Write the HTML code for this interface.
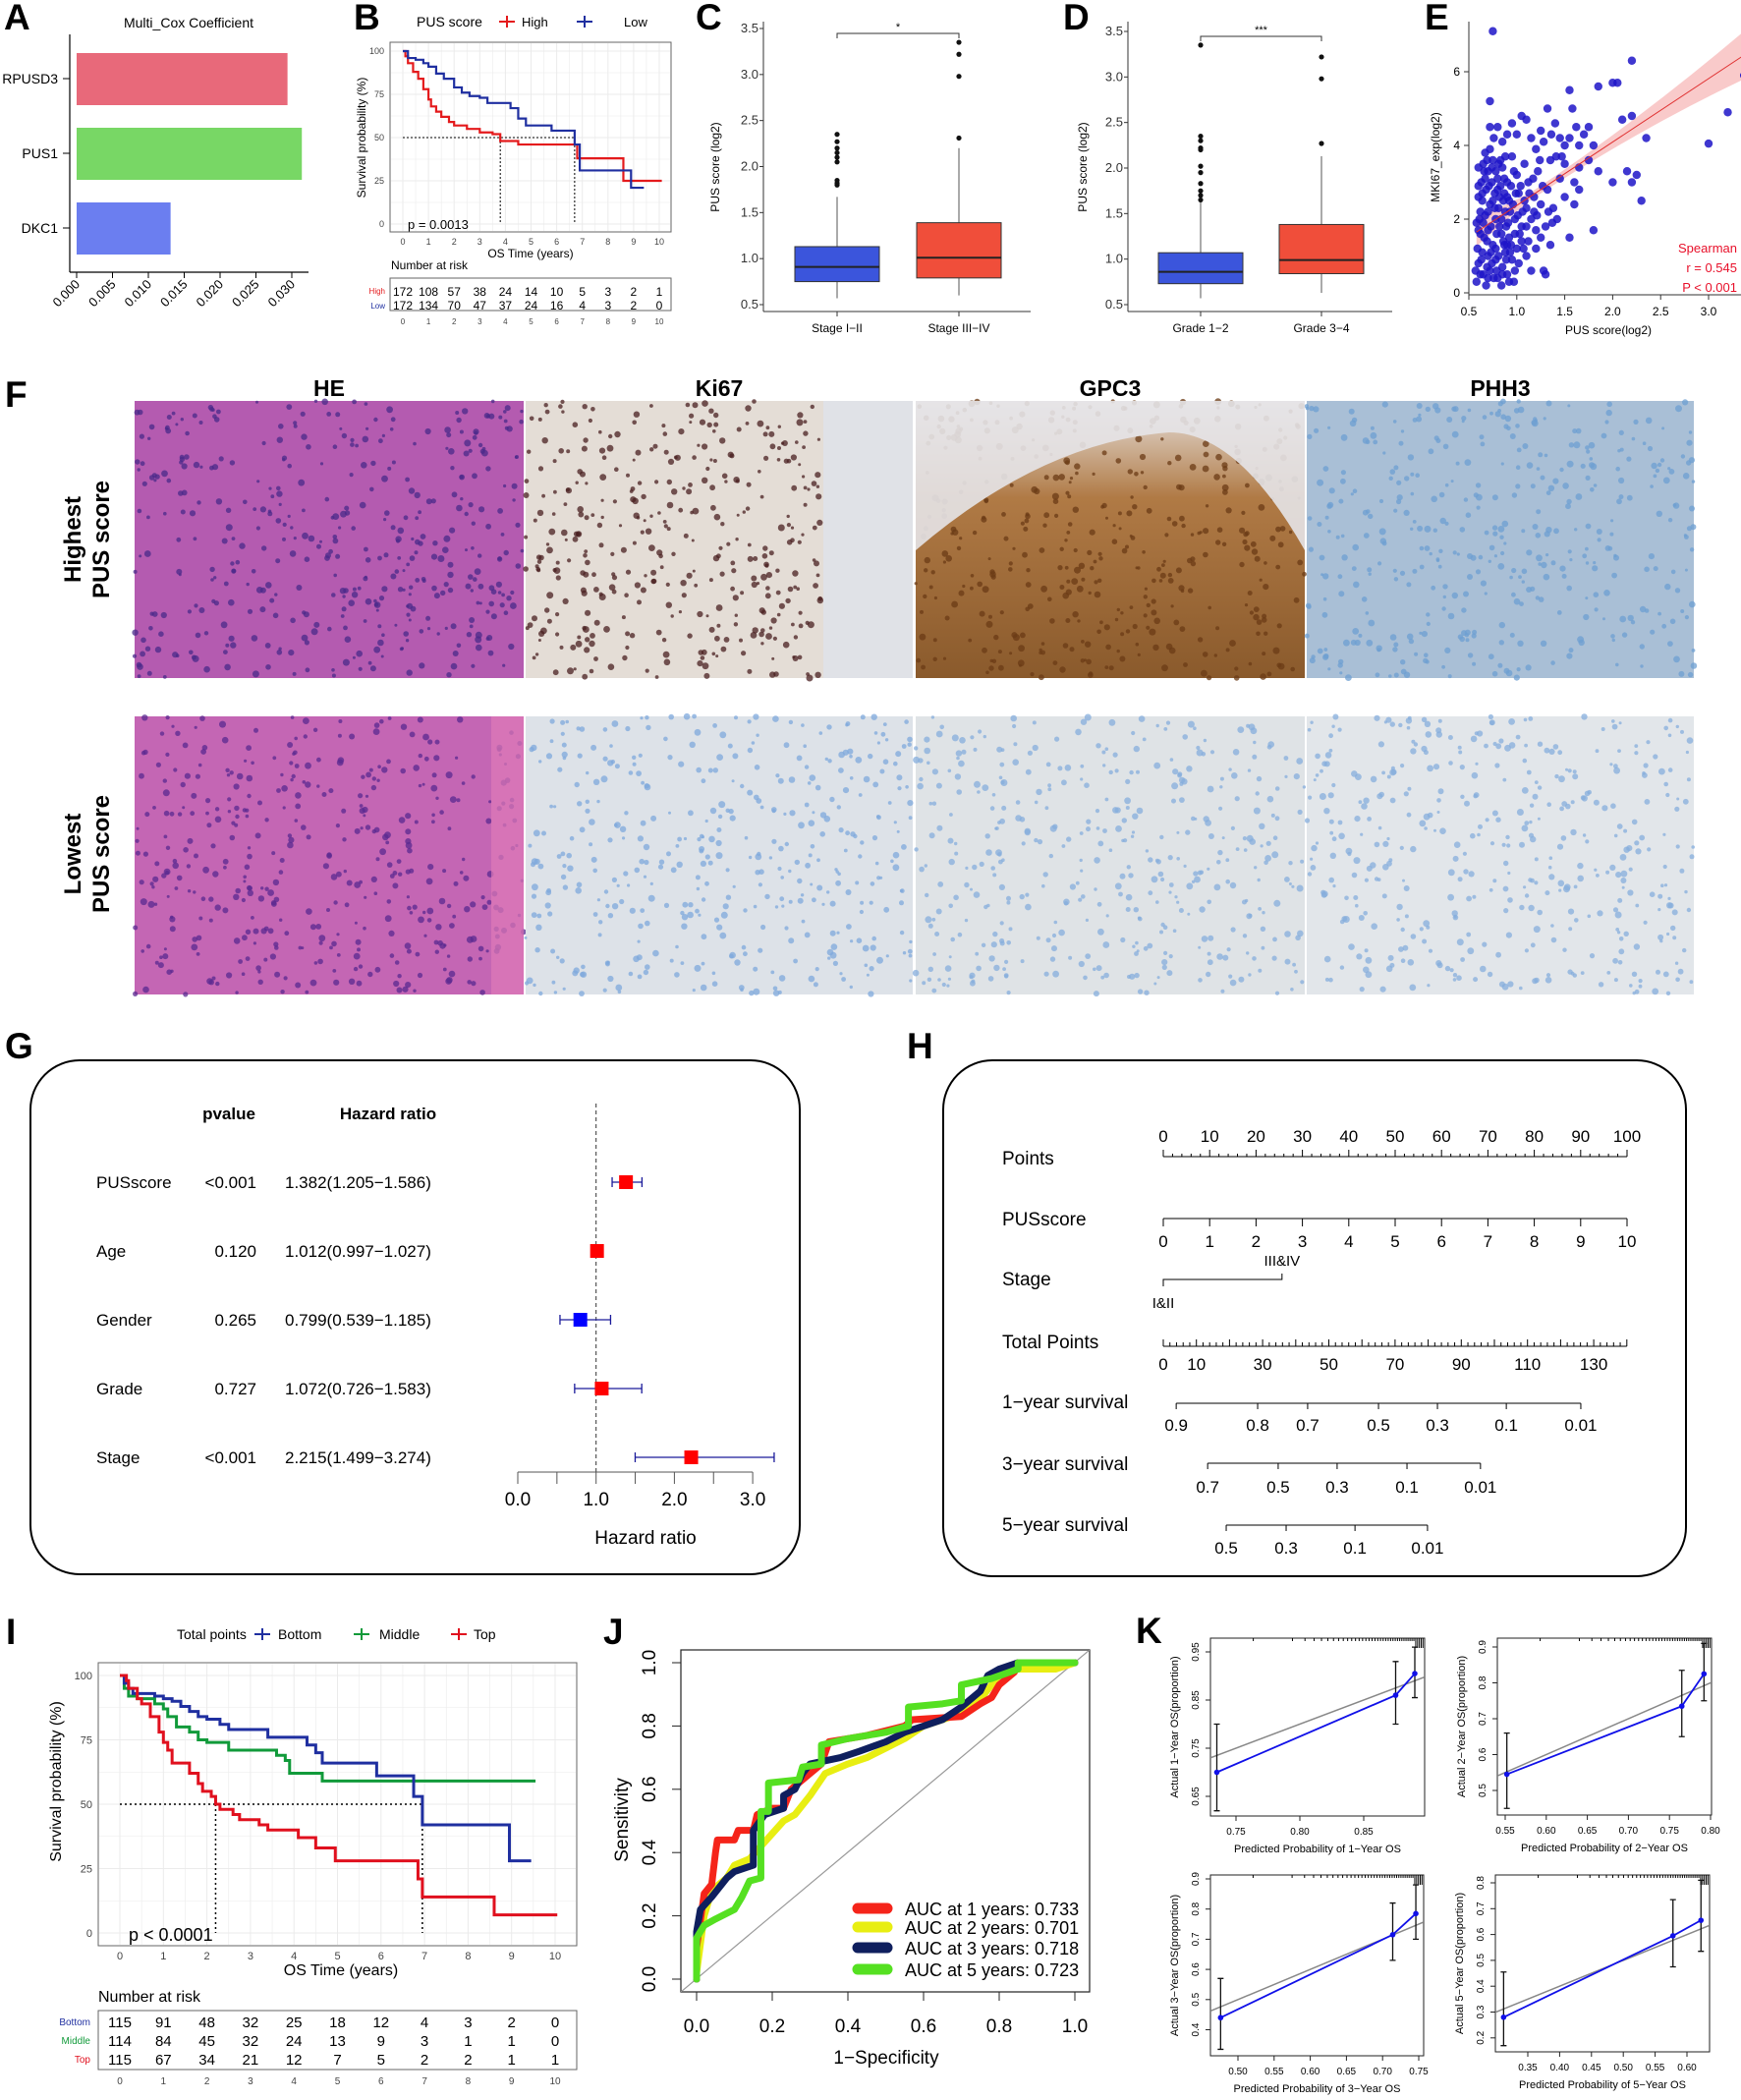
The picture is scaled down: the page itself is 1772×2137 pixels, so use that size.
<!DOCTYPE html>
<html><head><meta charset="utf-8">
<style>
html,body{margin:0;padding:0;background:#fff;}
svg{display:block;font-family:"Liberation Sans",Arial,sans-serif;}
</style></head>
<body>
<svg id="fig" xmlns="http://www.w3.org/2000/svg" width="1772" height="2137" viewBox="0 0 1772 2137">
<defs>
<clipPath id="clipK1"><rect x="1232" y="1667" width="218" height="181"/></clipPath>
<clipPath id="clipK2"><rect x="1524" y="1667" width="218" height="180"/></clipPath>
<clipPath id="clipK3"><rect x="1232" y="1908" width="217" height="184"/></clipPath>
<clipPath id="clipK4"><rect x="1522" y="1908" width="218" height="180"/></clipPath>
<clipPath id="clipJ"><rect x="693" y="1679" width="416" height="348"/></clipPath>
<linearGradient id="gpcG" x1="0" y1="0" x2="0" y2="1"><stop offset="0" stop-color="#e6e0dc"/><stop offset="0.35" stop-color="#b07a45"/><stop offset="1" stop-color="#8a5a2c"/></linearGradient>
</defs>
</svg>
<script>
// ---------------- DATA ----------------
const coefGenes = ["RPUSD3","PUS1","DKC1"];
const coefValues = [0.0294,0.0314,0.0131];
const coefTicks = [0,0.005,0.010,0.015,0.020,0.025,0.030];

const kmBHighT = [0,0.1,0.2,0.4,0.6,0.8,1,1.1,1.3,1.5,1.8,2,2.5,3,3.5,3.8,4.5,6.8,8.6,10.1];
const kmBHighS = [100,97,93,88,84,78,72,68,65,62,59,57,55,53,52,48,46,38,25,25];
const kmBLowT = [0,0.2,0.5,0.8,1,1.3,1.6,2,2.3,2.6,3,3.3,4.2,4.5,4.8,5.8,6.7,6.9,8.9,9.4];
const kmBLowS = [100,96,95,93,91,87,84,79,76,74,73,70,67,61,57,54,46,31,21,21];
const kmBMedians = [3.8,6.7];
const riskBHigh = [172,108,57,38,24,14,10,5,3,2,1];
const riskBLow = [172,134,70,47,37,24,16,4,3,2,0];

const stageCats = ["Stage I\u2212II","Stage III\u2212IV"];
const stageQ1=[0.75,0.79], stageMed=[0.91,1.01], stageQ3=[1.13,1.39], stageLo=[0.57,0.60], stageHi=[1.67,2.20];
const stageOut=[[1.8,1.82,1.85,2.05,2.1,2.15,2.2,2.27,2.35],[2.31,2.98,3.22,3.35]];
const gradeCats = ["Grade 1\u22122","Grade 3\u22124"];
const gradeQ1=[0.73,0.84], gradeMed=[0.86,0.99], gradeQ3=[1.07,1.38], gradeLo=[0.57,0.63], gradeHi=[1.63,2.13];
const gradeOut=[[1.65,1.7,1.75,1.83,1.95,2.02,2.2,2.22,2.3,2.35,3.35],[2.27,2.98,3.22]];
const boxTicks=[0.5,1.0,1.5,2.0,2.5,3.0,3.5];

const scatX=[0.75,0.72,0.6,0.62,0.58,0.6,0.65,0.68,0.7,0.72,0.75,0.78,0.8,0.82,0.85,0.88,0.9,0.92,0.95,0.98,1.0,1.02,1.05,1.1,1.15,1.2,1.28,0.62,0.65,0.68,0.7,0.72,0.75,0.78,0.8,0.82,0.85,0.88,0.9,0.92,0.95,0.98,1.0,1.02,1.05,1.08,1.1,1.12,1.15,1.18,1.2,1.22,1.25,1.3,1.32,1.35,1.38,0.67,0.72,0.8,0.85,0.9,0.95,1.0,1.05,1.1,1.15,1.2,1.25,1.28,1.32,1.36,1.4,1.45,1.5,1.55,1.58,1.62,1.65,1.7,1.75,1.8,1.55,1.85,2.0,2.05,2.2,3.2,3.0,2.35,2.1,2.2,2.15,2.25,2.3,2.0,2.2,1.8,1.55,1.85,1.75,1.6,1.65,1.5,1.45,1.5,1.6,1.65,1.42,1.35,1.3,1.25,1.18,1.12,1.08,0.98,0.93,0.87,0.83,0.77,0.73,0.69,0.64,0.6,0.63,0.66,0.7,0.74,0.78,0.81,0.86,0.89,0.94,0.97,1.01,1.04,1.07,1.13,1.17,1.21,1.24,1.27,1.33,1.37,1.41,1.47,0.88,0.76,0.84,0.92,0.7,
0.57,0.59,0.61,0.63,0.64,0.66,0.67,0.69,0.71,0.73,0.74,0.76,0.77,0.79,0.8,0.81,0.83,0.84,0.86,0.87,0.89,0.91,0.93,0.96,0.58,0.6,0.62,0.65,0.67,0.7,0.72,0.75,0.78,0.81,0.84,0.87,0.9,0.94,0.99,1.03,1.06,1.1,0.6,0.64,0.69,0.74,0.79,0.85,0.9,0.97];
const scatY=[7.1,5.2,2.6,1.6,0.3,0.8,0.5,0.2,1.0,0.6,1.3,0.9,0.4,1.8,0.7,1.1,0.5,1.5,0.9,0.6,1.2,0.8,1.4,1.0,0.6,1.2,0.6,2.2,1.9,2.8,3.3,2.4,3.6,2.0,3.1,2.6,3.4,2.2,3.0,2.5,3.7,2.0,3.2,2.7,1.8,3.5,2.3,3.0,2.0,2.6,1.7,3.3,2.4,1.8,2.8,3.6,2.3,3.8,4.5,4.5,4.1,4.3,4.6,4.3,4.8,4.7,4.2,3.9,4.4,4.1,5.0,4.3,4.6,4.2,4.0,4.2,5.0,4.5,4.0,4.3,4.5,4.0,5.5,5.6,5.7,5.7,6.3,4.9,4.05,4.2,4.7,4.8,3.3,3.2,2.5,3.0,3.0,1.7,1.5,3.3,3.6,3.0,2.8,3.5,3.1,2.6,2.4,3.4,2.0,1.3,0.5,1.5,2.2,1.4,2.5,1.6,2.2,1.3,2.9,2.7,1.8,1.4,1.1,1.7,3.0,3.3,2.2,3.0,3.3,2.3,2.5,1.8,2.9,3.3,2.1,2.9,1.2,2.7,3.1,2.1,3.6,2.9,2.2,1.9,3.7,3.7,3.7,4.2,0.2,0.3,0.4,
0.6,1.2,2.0,0.9,2.5,1.5,3.1,0.7,2.9,1.1,3.4,0.4,2.3,1.6,2.8,1.0,3.6,2.0,1.4,2.7,0.9,1.9,1.1,2.4,1.9,2.9,0.5,3.5,2.1,1.7,3.9,2.5,1.2,3.5,1.6,3.1,2.6,1.3,2.7,1.6,2.2,1.8,3.4,2.7,3.6,0.8,0.6,0.5,1.3,0.3];
const scatOpen=[[3.37,5.9]];
const fitX=[0.58,3.37], fitY=[1.65,6.45];
const eXTicks=[0.5,1.0,1.5,2.0,2.5,3.0], eYTicks=[0,2,4,6];

const forestVars=["PUSscore","Age","Gender","Grade","Stage"];
const forestP=["<0.001","0.120","0.265","0.727","<0.001"];
const forestHR=[1.382,1.012,0.799,1.072,2.215];
const forestLo=[1.205,0.997,0.539,0.726,1.499];
const forestHi=[1.586,1.027,1.185,1.583,3.274];
const forestTicks=[0,1,2,3];

const nomoPointTicks=[0,10,20,30,40,50,60,70,80,90,100];
const nomoScoreTicks=[0,1,2,3,4,5,6,7,8,9,10];
const nomoStagePts=[0,25.6];
const nomoTotalTicks=[0,10,30,50,70,90,110,130];
const surv1Lab=["0.9","0.8","0.7","0.5","0.3","0.1","0.01"], surv1TP=[3.9,28.5,43.6,65,82.8,103.6,126.1];
const surv3Lab=["0.7","0.5","0.3","0.1","0.01"], surv3TP=[13.4,34.7,52.5,73.6,95.8];
const surv5Lab=["0.5","0.3","0.1","0.01"], surv5TP=[19,37.1,57.9,79.8];

const kmIBotT=[0,0.1,0.2,0.3,0.8,1,1.2,1.4,1.6,1.8,2,2.3,2.5,3.4,4.3,4.5,4.65,5.9,6.75,6.95,8.95,9.45];
const kmIBotS=[100,97,95,93,92,91,90,88,86,84,83,81,79,76,73,70,66,61,53,42,28,28];
const kmIMidT=[0,0.1,0.2,0.4,0.8,1,1.1,1.3,1.6,1.8,2,2.5,3.6,3.8,3.9,4.65,9.55];
const kmIMidS=[100,95,92,91,89,87,84,80,78,75,74,71,69,67,62,59,59];
const kmITopT=[0,0.15,0.2,0.4,0.5,0.7,0.9,1,1.1,1.2,1.6,1.8,1.9,2.1,2.2,2.3,2.6,2.75,3.2,3.4,4.1,4.5,4.95,6.85,6.95,8.6,10.05];
const kmITopS=[100,98,95,91,89,84,78,74,71,66,62,58,55,53,50,48,46,44,42,40,37,33,28,21,14,7,7];
const kmIMedians=[2.2,6.95];
const riskIBot=[115,91,48,32,25,18,12,4,3,2,0];
const riskIMid=[114,84,45,32,24,13,9,3,1,1,0];
const riskITop=[115,67,34,21,12,7,5,2,2,1,1];

const roc1F=[0,0,0.02,0.04,0.05,0.055,0.1,0.11,0.15,0.16,0.2,0.23,0.25,0.3,0.33,0.35,0.45,0.55,0.57,0.7,0.75,0.78,0.8,0.84,0.85,1];
const roc1T=[0,0.1,0.27,0.3,0.4,0.44,0.44,0.47,0.47,0.52,0.54,0.54,0.6,0.65,0.68,0.75,0.77,0.8,0.82,0.83,0.87,0.89,0.93,0.97,1,1];
const roc2F=[0,0,0.02,0.04,0.08,0.1,0.14,0.17,0.2,0.23,0.26,0.3,0.34,0.4,0.45,0.5,0.55,0.6,0.7,0.76,0.8,0.85,0.95,1];
const roc2T=[0,0.02,0.2,0.28,0.32,0.36,0.38,0.42,0.46,0.5,0.52,0.58,0.65,0.68,0.7,0.73,0.76,0.8,0.84,0.9,0.96,0.98,0.98,1];
const roc3F=[0,0,0.01,0.04,0.08,0.1,0.15,0.15,0.18,0.23,0.23,0.26,0.28,0.3,0.38,0.43,0.5,0.55,0.6,0.65,0.7,0.75,0.77,0.8,0.85,1];
const roc3T=[0,0.15,0.22,0.26,0.32,0.34,0.36,0.47,0.52,0.54,0.58,0.6,0.65,0.68,0.7,0.72,0.75,0.78,0.8,0.82,0.86,0.91,0.96,0.98,1,1];
const roc5F=[0,0,0.02,0.05,0.1,0.12,0.14,0.17,0.17,0.19,0.19,0.27,0.28,0.33,0.33,0.4,0.5,0.56,0.56,0.65,0.7,0.7,0.78,0.85,0.85,1];
const roc5T=[0,0.13,0.17,0.19,0.22,0.26,0.31,0.32,0.53,0.53,0.62,0.63,0.67,0.68,0.74,0.76,0.78,0.8,0.86,0.87,0.88,0.93,0.95,0.98,1,1];
const rocLabels=["AUC at 1 years: 0.733","AUC at 2 years: 0.701","AUC at 3 years: 0.718","AUC at 5 years: 0.723"];
const rocTicks=[0,0.2,0.4,0.6,0.8,1.0];

const k1Pred=[0.735,0.875,0.89], k1Obs=[0.70,0.86,0.905], k1Lo=[0.62,0.80,0.855], k1Hi=[0.80,0.93,0.96];
const k2Pred=[0.552,0.765,0.792], k2Obs=[0.545,0.735,0.825], k2Lo=[0.45,0.65,0.75], k2Hi=[0.66,0.835,0.91];
const k3Pred=[0.476,0.714,0.746], k3Obs=[0.44,0.715,0.785], k3Lo=[0.335,0.63,0.70], k3Hi=[0.57,0.82,0.88];
const k4Pred=[0.312,0.578,0.622], k4Obs=[0.28,0.595,0.655], k4Lo=[0.17,0.475,0.535], k4Hi=[0.455,0.735,0.81];

// ---------------- HELPERS ----------------
const NS="http://www.w3.org/2000/svg";
const svg=document.getElementById('fig');
function mk(tag,attrs,parent,text){
  const e=document.createElementNS(NS,tag);
  for(const k in attrs) e.setAttribute(k,attrs[k]);
  if(text!=null) e.textContent=text;
  (parent||svg).appendChild(e);
  return e;
}
function nm(e,name){
  
  
  return e;
}
function grp(name){const g=mk('g',{});
  
  
  return g;}
function txt(p,x,y,s,size,extra){const a=Object.assign({x:x,y:y,'font-size':size,fill:'#000'},extra||{});return mk('text',a,p,s);}
function label(p,x,y,s){const t=txt(p,x,y,s,37,{'font-weight':'bold'});
  
  }
function stepPath(T,S,fx,fy){let d='M'+fx(T[0])+','+fy(S[0]);for(let i=1;i<T.length;i++){d+=' H'+fx(T[i])+' V'+fy(S[i]);}return d;}

// ---------------- PANEL A ----------------
(function(){
  const g=grp('panel-a-coefficient-bar');
  label(g,4,30,'A');
  txt(g,192,28,'Multi_Cox  Coefficient',14,{'text-anchor':'middle'});
  const x=v=>78+v/0.030*219;
  const yc=[80,156,232];
  const cols=['#e8697a','#78d765','#6b7ef0'];
  coefGenes.forEach((gn,i)=>{
    const r=mk('rect',{x:x(0),y:yc[i]-26,width:x(coefValues[i])-x(0),height:53,fill:cols[i]},g);
    nm(r,'bar-'+gn.toLowerCase());
    txt(g,59,yc[i]+5,gn,14,{'text-anchor':'end'});
    mk('line',{x1:64,y1:yc[i],x2:71,y2:yc[i],stroke:'#000'},g);
  });
  mk('line',{x1:71,y1:35,x2:71,y2:277,stroke:'#000','stroke-width':1.2},g);
  mk('line',{x1:71,y1:277,x2:314,y2:277,stroke:'#000','stroke-width':1.2},g);
  coefTicks.forEach(t=>{mk('line',{x1:x(t),y1:277,x2:x(t),y2:283,stroke:'#000'},g);
    txt(g,x(t)+4,290,t.toFixed(3),13,{'text-anchor':'end',transform:`rotate(-45 ${x(t)+4} 290)`});});
})();

// ---------------- PANEL B ----------------
(function(){
  const g=grp('panel-b-km-pus');
  label(g,360,30,'B');
  const x=t=>410+t*26.1, y=s=>228-s*1.76;
  txt(g,424,27,'PUS score',14);
  mk('path',{d:'M508,22 h16 M516,16 v12',stroke:'#e41a1c','stroke-width':2},g);
  txt(g,531,27,'High',13);
  mk('path',{d:'M587,22 h16 M595,16 v12',stroke:'#1f2fa0','stroke-width':2},g);
  txt(g,635,27,'Low',13);
  mk('rect',{x:397,y:43,width:286,height:193,fill:'#fff',stroke:'#666'},g);
  for(let t=0;t<=10;t+=0.5) mk('line',{x1:x(t),y1:44,x2:x(t),y2:235,stroke:'#ebebeb','stroke-width':t%1?0.6:1},g);
  for(let s=0;s<=100;s+=12.5) mk('line',{x1:398,y1:y(s),x2:682,y2:y(s),stroke:'#ebebeb','stroke-width':s%25?0.6:1},g);
  [0,25,50,75,100].forEach(s=>txt(g,391,y(s)+3,s,9,{'text-anchor':'end',fill:'#444'}));
  for(let t=0;t<=10;t++) txt(g,x(t),249,t,9,{'text-anchor':'middle',fill:'#444'});
  txt(g,0,0,'Survival probability (%)',12,{'text-anchor':'middle',transform:'translate(372,140) rotate(-90)'});
  mk('path',{d:`M${x(0)},${y(50)} H${x(kmBMedians[1])} M${x(kmBMedians[0])},${y(50)} V${y(0)} M${x(kmBMedians[1])},${y(50)} V${y(0)}`,stroke:'#000','stroke-dasharray':'2,2',fill:'none'},g);
  nm(mk('path',{d:stepPath(kmBHighT,kmBHighS,x,y),stroke:'#e41a1c','stroke-width':2.2,fill:'none'},g),'curve-high');
  nm(mk('path',{d:stepPath(kmBLowT,kmBLowS,x,y),stroke:'#1f2fa0','stroke-width':2.2,fill:'none'},g),'curve-low');
  txt(g,415,233,'p = 0.0013',13);
  txt(g,540,262,'OS Time (years)',12,{'text-anchor':'middle'});
  txt(g,398,274,'Number at risk',12);
  mk('rect',{x:397,y:283,width:286,height:33,fill:'none',stroke:'#666'},g);
  txt(g,392,299,'High',8,{'text-anchor':'end',fill:'#e41a1c'});
  txt(g,392,314,'Low',8,{'text-anchor':'end',fill:'#1f2fa0'});
  riskBHigh.forEach((v,i)=>txt(g,x(i),301,v,12,{'text-anchor':'middle'}));
  riskBLow.forEach((v,i)=>txt(g,x(i),315,v,12,{'text-anchor':'middle'}));
  for(let t=0;t<=10;t++) txt(g,x(t),330,t,8,{'text-anchor':'middle',fill:'#444'});
})();

// ---------------- BOX PANELS C/D ----------------
function boxPanel(name,L,lx,ax,axEnd,y35,y05,cx,cats,q1,md,q3,lo,hi,outs,stars,sx){
  const g=grp(name);
  label(g,lx,30,L);
  const y=v=>y05-(v-0.5)*(y05-y35)/3;
  mk('line',{x1:ax,y1:22,x2:ax,y2:317,stroke:'#333'},g);
  mk('line',{x1:ax,y1:317,x2:axEnd,y2:317,stroke:'#333'},g);
  boxTicks.forEach(t=>{mk('line',{x1:ax-4,y1:y(t),x2:ax,y2:y(t),stroke:'#333'},g);txt(g,ax-5,y(t)+4,t.toFixed(1),13,{'text-anchor':'end',fill:'#333'});});
  const cols=['#3b55dc','#f04e3a'];
  cats.forEach((c,i)=>{
    const X=cx[i];
    mk('line',{x1:X,y1:y(lo[i]),x2:X,y2:y(hi[i]),stroke:'#555'},g);
    nm(mk('rect',{x:X-43,y:y(q3[i]),width:86,height:y(q1[i])-y(q3[i]),fill:cols[i],stroke:'#333','stroke-width':1},g),'box-'+i);
    mk('line',{x1:X-43,y1:y(md[i]),x2:X+43,y2:y(md[i]),stroke:'#222','stroke-width':2},g);
    outs[i].forEach(o=>mk('circle',{cx:X,cy:y(o),r:2.6,fill:'#111'},g));
    mk('line',{x1:X,y1:317,x2:X,y2:322,stroke:'#333'},g);
    txt(g,X,338,c,12,{'text-anchor':'middle'});
  });
  mk('path',{d:`M${cx[0]},${sx+5} V${sx} H${cx[1]} V${sx+5}`,stroke:'#333',fill:'none'},g);
  txt(g,(cx[0]+cx[1])/2,sx-3,stars,11,{'text-anchor':'middle'});
  txt(g,0,0,'PUS score (log2)',12,{'text-anchor':'middle',transform:`translate(${lx+24},170) rotate(-90)`});
}
boxPanel('panel-c-stage-box','C',708,777,1049,29,310,[852,976],stageCats,stageQ1,stageMed,stageQ3,stageLo,stageHi,stageOut,'*',34);
boxPanel('panel-d-grade-box','D',1082,1148,1417,32,310,[1222,1345],gradeCats,gradeQ1,gradeMed,gradeQ3,gradeLo,gradeHi,gradeOut,'***',37);

// ---------------- PANEL E ----------------
(function(){
  const g=grp('panel-e-scatter');
  label(g,1450,30,'E');
  const x=v=>1495+(v-0.5)*97.6, y=v=>298-v*37.5;
  mk('line',{x1:1495,y1:22,x2:1495,y2:300,stroke:'#333'},g);
  mk('line',{x1:1495,y1:300,x2:1772,y2:300,stroke:'#333'},g);
  eXTicks.forEach(t=>{mk('line',{x1:x(t),y1:300,x2:x(t),y2:305,stroke:'#333'},g);txt(g,x(t),321,t.toFixed(1),12,{'text-anchor':'middle'});});
  eYTicks.forEach(t=>{mk('line',{x1:1490,y1:y(t),x2:1495,y2:y(t),stroke:'#333'},g);txt(g,1486,y(t)+4,t,12,{'text-anchor':'end'});});
  txt(g,1637,340,'PUS score(log2)',12,{'text-anchor':'middle'});
  txt(g,0,0,'MKI67_exp(log2)',12,{'text-anchor':'middle',transform:'translate(1465,160) rotate(-90)'});
  const x0=fitX[0],x1=fitX[1];
  const band=[];const bandB=[];
  for(let i=0;i<=10;i++){const xv=x0+(x1-x0)*i/10;const yv=fitY[0]+(fitY[1]-fitY[0])*i/10;const w=0.1+0.25*Math.pow((xv-1.1)/2.27,2)*2.2+(xv<1.1?0.5*(1.1-xv):0);band.push(x(xv)+','+y(yv+w));bandB.unshift(x(xv)+','+y(yv-w));}
  nm(mk('polygon',{points:band.concat(bandB).join(' '),fill:'#f7b4b4','fill-opacity':0.7},g),'ci-band');
  scatX.forEach((v,i)=>{const c=mk('circle',{cx:x(v),cy:y(scatY[i]),r:4.2,fill:'#1d14c8','fill-opacity':0.85},g);
    
    });
  scatOpen.forEach(p=>mk('circle',{cx:x(p[0]),cy:y(p[1]),r:3.6,fill:'none',stroke:'#1d14c8'},g));
  nm(mk('line',{x1:x(fitX[0]),y1:y(fitY[0]),x2:x(fitX[1]),y2:y(fitY[1]),stroke:'#e03030','stroke-width':1},g),'fit-line');
  txt(g,1768,257,'Spearman',13,{'text-anchor':'end',fill:'#e8102a'});
  txt(g,1768,277,'r = 0.545',13,{'text-anchor':'end',fill:'#e8102a'});
  txt(g,1768,297,'P < 0.001',13,{'text-anchor':'end',fill:'#e8102a'});
})();

// ---------------- PANEL F ----------------
(function(){
  const g=grp('panel-f-histology');
  label(g,5,414,'F');
  const cols=[[137,533],[535,929],[932,1328],[1330,1724]];
  const heads=['HE','Ki67','GPC3','PHH3'];
  heads.forEach((h,i)=>txt(g,(cols[i][0]+cols[i][1])/2,403,h,23,{'text-anchor':'middle','font-weight':'bold'}));
  const rows=[[408,690],[729,1012]];
  const bg=[['#b45bb0','#e4ddd6','url(#gpcG)','#a9bfd6'],['#c466b4','#dde2e8','#dfe3e6','#e2e6ea']];
  const dot=[['#4a2a8a','#4a1f20','#6b3b15','#6e9fd2'],['#5a2a90','#7ea8dc','#86aedc','#86aedc']];
  let seed=7;const rnd=()=>{seed=(seed*16807)%2147483647;return seed/2147483647;};
  rows.forEach((r,ri)=>cols.forEach((c,ci)=>{
    const im=mk('rect',{x:c[0],y:r[0],width:c[1]-c[0],height:r[1]-r[0],fill:bg[ri][ci]},g);
    nm(im,'image-'+heads[ci].toLowerCase()+(ri?'-lowest':'-highest'));
    const n=(ri===0&&ci===1)?500:420;
    for(let k=0;k<n;k++){const px=c[0]+rnd()*(c[1]-c[0]),py=r[0]+rnd()*(r[1]-r[0]);
      if(ri===0&&ci===1&&px>c[0]+300) continue;
      mk('circle',{cx:px.toFixed(1),cy:py.toFixed(1),r:(1.5+rnd()*2).toFixed(1),fill:dot[ri][ci],'fill-opacity':0.75},g);}
  }));
  mk('rect',{x:500,y:729,width:33,height:283,fill:'#e07ab8','fill-opacity':0.7},g);
  mk('rect',{x:838,y:408,width:91,height:282,fill:'#dfe3ea','fill-opacity':0.85},g);
  mk('path',{d:'M932,408 H1328 V560 Q1260,440 1190,440 Q1060,450 932,560 Z',fill:'#e6e4e8','fill-opacity':0.9},g);
  txt(g,0,0,'Highest',24,{'text-anchor':'middle','font-weight':'bold',transform:'translate(82,549) rotate(-90)'});
  txt(g,0,0,'PUS score',24,{'text-anchor':'middle','font-weight':'bold',transform:'translate(111,549) rotate(-90)'});
  txt(g,0,0,'Lowest',24,{'text-anchor':'middle','font-weight':'bold',transform:'translate(82,869) rotate(-90)'});
  txt(g,0,0,'PUS score',24,{'text-anchor':'middle','font-weight':'bold',transform:'translate(111,869) rotate(-90)'});
})();

// ---------------- PANEL G ----------------
(function(){
  const g=grp('panel-g-forest');
  label(g,5,1077,'G');
  mk('rect',{x:31,y:1079,width:783,height:523,rx:50,ry:50,fill:'none',stroke:'#000','stroke-width':2},g);
  txt(g,233,1139,'pvalue',17,{'text-anchor':'middle','font-weight':'bold'});
  txt(g,395,1139,'Hazard ratio',17,{'text-anchor':'middle','font-weight':'bold'});
  const x=v=>527+v*79.7;
  const ys=[1203,1273,1343,1413,1483];
  mk('line',{x1:x(1),y1:1123,x2:x(1),y2:1498,stroke:'#333','stroke-dasharray':'4,3'},g);
  forestVars.forEach((v,i)=>{
    const Y=ys[i];
    txt(g,98,Y+6,v,17);
    txt(g,261,Y+6,forestP[i],17,{'text-anchor':'end'});
    txt(g,290,Y+6,forestHR[i].toFixed(3)+'('+forestLo[i].toFixed(3)+'\u2212'+forestHi[i].toFixed(3)+')',17);
    mk('path',{d:`M${x(forestLo[i])},${Y} H${x(forestHi[i])} M${x(forestLo[i])},${Y-5} V${Y+5} M${x(forestHi[i])},${Y-5} V${Y+5}`,stroke:'#1a1a9a','stroke-width':1.3,fill:'none'},g);
    nm(mk('rect',{x:x(forestHR[i])-7,y:Y-7,width:14,height:14,fill:forestHR[i]<1?'#0000ff':'#ff0000'},g),'hr-marker-'+v.toLowerCase());
  });
  mk('line',{x1:x(0),y1:1498,x2:x(3),y2:1498,stroke:'#555'},g);
  for(let t=0;t<=3;t+=0.5) mk('line',{x1:x(t),y1:1498,x2:x(t),y2:1510,stroke:'#555'},g);
  forestTicks.forEach(t=>txt(g,x(t),1532,t.toFixed(1),19,{'text-anchor':'middle'}));
  txt(g,657,1571,'Hazard ratio',19,{'text-anchor':'middle'});
})();

// ---------------- PANEL H ----------------
(function(){
  const g=grp('panel-h-nomogram');
  label(g,923,1077,'H');
  mk('rect',{x:960,y:1079,width:756,height:525,rx:50,ry:50,fill:'none',stroke:'#000','stroke-width':2},g);
  const px=p=>1184+p*4.72, tx=t=>1184+t*3.37;
  const L=(s,y)=>txt(g,1020,y+7,s,19);
  L('Points',1178);
  mk('line',{x1:px(0),y1:1177,x2:px(100),y2:1177,stroke:'#000'},g);
  for(let p=0;p<=100;p+=2) mk('line',{x1:px(p),y1:1177,x2:px(p),y2:p%10?1174:1170,stroke:'#000'},g);
  nomoPointTicks.forEach(p=>txt(g,px(p),1162,p,17,{'text-anchor':'middle'}));
  L('PUSscore',1240);
  mk('line',{x1:px(0),y1:1240,x2:px(100),y2:1240,stroke:'#000'},g);
  nomoScoreTicks.forEach(s=>{mk('line',{x1:px(s*10),y1:1240,x2:px(s*10),y2:1248,stroke:'#000'},g);txt(g,px(s*10),1269,s,17,{'text-anchor':'middle'});});
  L('Stage',1301);
  mk('path',{d:`M${px(nomoStagePts[0])},1309 V1302 H${px(nomoStagePts[1])} V1296`,stroke:'#000',fill:'none'},g);
  txt(g,px(nomoStagePts[1]),1288,'III&IV',15,{'text-anchor':'middle'});
  txt(g,px(nomoStagePts[0]),1331,'I&II',15,{'text-anchor':'middle'});
  L('Total Points',1365);
  mk('line',{x1:tx(0),y1:1370,x2:tx(140),y2:1370,stroke:'#000'},g);
  for(let t=0;t<=140;t+=2) mk('line',{x1:tx(t),y1:1370,x2:tx(t),y2:t%10?1366:1363,stroke:'#000'},g);
  nomoTotalTicks.forEach(t=>txt(g,tx(t),1394,t,17,{'text-anchor':'middle'}));
  const surv=(lab,tp,yl,yaxis,ylab,name)=>{
    L(name,yl);
    mk('line',{x1:tx(tp[0]),y1:yaxis,x2:tx(tp[tp.length-1]),y2:yaxis,stroke:'#000'},g);
    tp.forEach((t,i)=>{mk('line',{x1:tx(t),y1:yaxis,x2:tx(t),y2:yaxis+6,stroke:'#000'},g);txt(g,tx(t),ylab+6,lab[i],17,{'text-anchor':'middle'});});
  };
  surv(surv1Lab,surv1TP,1426,1428,1450,'1\u2212year survival');
  surv(surv3Lab,surv3TP,1489,1489,1513,'3\u2212year survival');
  surv(surv5Lab,surv5TP,1551,1552,1575,'5\u2212year survival');
})();

// ---------------- PANEL I ----------------
(function(){
  const g=grp('panel-i-km-total-points');
  label(g,6,1673,'I');
  const x=t=>122+t*44.3, y=s=>1967-s*2.62;
  txt(g,180,1668,'Total points',14);
  mk('path',{d:'M259,1663 h16 M267,1657 v12',stroke:'#1f2fa0','stroke-width':2},g);txt(g,283,1668,'Bottom',14);
  mk('path',{d:'M360,1663 h16 M368,1657 v12',stroke:'#119a3a','stroke-width':2},g);txt(g,386,1668,'Middle',14);
  mk('path',{d:'M459,1663 h16 M467,1657 v12',stroke:'#e0101e','stroke-width':2},g);txt(g,482,1668,'Top',14);
  mk('rect',{x:100,y:1692,width:487,height:288,fill:'#fff',stroke:'#666'},g);
  for(let t=0;t<=10;t+=0.5) mk('line',{x1:x(t),y1:1693,x2:x(t),y2:1979,stroke:'#ebebeb','stroke-width':t%1?0.6:1},g);
  for(let s=0;s<=100;s+=12.5) mk('line',{x1:101,y1:y(s),x2:586,y2:y(s),stroke:'#ebebeb','stroke-width':s%25?0.6:1},g);
  [0,25,50,75,100].forEach(s=>txt(g,94,y(s)+4,s,11,{'text-anchor':'end',fill:'#444'}));
  for(let t=0;t<=10;t++) txt(g,x(t),1994,t,11,{'text-anchor':'middle',fill:'#444'});
  txt(g,0,0,'Survival probability (%)',16,{'text-anchor':'middle',transform:'translate(62,1813) rotate(-90)'});
  mk('path',{d:`M${x(0)},${y(50)} H${x(kmIMedians[1])} M${x(kmIMedians[0])},${y(50)} V${y(0)} M${x(kmIMedians[1])},${y(50)} V${y(0)}`,stroke:'#000','stroke-dasharray':'2,3','stroke-width':1.5,fill:'none'},g);
  nm(mk('path',{d:stepPath(kmIMidT,kmIMidS,x,y),stroke:'#119a3a','stroke-width':3,fill:'none'},g),'curve-middle');
  nm(mk('path',{d:stepPath(kmIBotT,kmIBotS,x,y),stroke:'#1f2fa0','stroke-width':3,fill:'none'},g),'curve-bottom');
  nm(mk('path',{d:stepPath(kmITopT,kmITopS,x,y),stroke:'#e0101e','stroke-width':3,fill:'none'},g),'curve-top');
  txt(g,131,1975,'p < 0.0001',18);
  txt(g,347,2010,'OS Time (years)',16,{'text-anchor':'middle'});
  txt(g,100,2037,'Number at risk',16);
  mk('rect',{x:100,y:2046,width:487,height:60,fill:'none',stroke:'#666'},g);
  [['Bottom','#1f2fa0',2057,riskIBot],['Middle','#119a3a',2076,riskIMid],['Top','#e0101e',2095,riskITop]].forEach(r=>{
    txt(g,92,r[2]+4,r[0],10,{'text-anchor':'end',fill:r[1]});
    r[3].forEach((v,i)=>txt(g,x(i),r[2]+6,v,15,{'text-anchor':'middle'}));
  });
  for(let t=0;t<=10;t++) txt(g,x(t),2121,t,10,{'text-anchor':'middle',fill:'#444'});
})();

// ---------------- PANEL J ----------------
(function(){
  const g=grp('panel-j-roc');
  label(g,614,1673,'J');
  const x=v=>709+v*385, y=v=>2014-v*322;
  mk('rect',{x:693,y:1679,width:416,height:348,fill:'none',stroke:'#222','stroke-width':1.2},g);
  mk('line',{x1:693,y1:2027,x2:1109,y2:1679,stroke:'#999','stroke-width':1.2,'clip-path':'url(#clipJ)'},g);
  rocTicks.forEach(t=>{mk('line',{x1:x(t),y1:2027,x2:x(t),y2:2036,stroke:'#222'},g);txt(g,x(t),2068,t.toFixed(1),19,{'text-anchor':'middle'});
    mk('line',{x1:684,y1:y(t),x2:693,y2:y(t),stroke:'#222'},g);txt(g,0,0,t.toFixed(1),19,{'text-anchor':'middle',transform:`translate(667,${y(t)}) rotate(-90)`});});
  txt(g,0,0,'Sensitivity',19,{'text-anchor':'middle',transform:'translate(639,1852) rotate(-90)'});
  txt(g,902,2100,'1\u2212Specificity',19,{'text-anchor':'middle'});
  const cols=['#f5241a','#e8ee12','#0f1f5e','#55e021'];
  const F=[roc1F,roc2F,roc3F,roc5F], T=[roc1T,roc2T,roc3T,roc5T];
  [1,0,2,3].forEach(k=>{
    const pts=F[k].map((f,i)=>x(f)+','+y(T[k][i])).join(' ');
    nm(mk('polyline',{points:pts,fill:'none',stroke:cols[k],'stroke-width':7,'stroke-linejoin':'round','stroke-linecap':'round'},g),'roc-curve-'+k);
  });
  const ly=[1942,1961,1982,2004];
  rocLabels.forEach((l,i)=>{mk('line',{x1:873,y1:ly[i],x2:903,y2:ly[i],stroke:cols[i],'stroke-width':11,'stroke-linecap':'round'},g);
    nm(txt(g,921,ly[i]+7,l,18),'legend-entry-'+i);});
})();

// ---------------- PANEL K ----------------
function calib(name,fr,xr,yr,xt,yt,pred,obs,lo,hi,xlab,ylab,clip){
  const g=grp(name);
  const [X0,Y0,W,H]=fr;
  const x=v=>xr[0]+(v-xr[1])*xr[2], y=v=>yr[0]-(v-yr[1])*yr[2];
  mk('rect',{x:X0,y:Y0,width:W,height:H,fill:'none',stroke:'#222'},g);
  const inv=px=>xr[1]+(px-xr[0])/xr[2];
  mk('line',{x1:X0,y1:y(inv(X0)),x2:X0+W,y2:y(inv(X0+W)),stroke:'#888','stroke-width':1.5,'clip-path':clip},g);
  for(let k=0;k<40;k++){const px=X0+W*(0.2+0.8*Math.pow(k/40,0.4));mk('line',{x1:px,y1:Y0,x2:px,y2:Y0+(k>34?10:3),stroke:'#000','stroke-width':1},g);}
  xt.forEach(t=>{mk('line',{x1:x(t),y1:Y0+H,x2:x(t),y2:Y0+H+5,stroke:'#222'},g);txt(g,x(t),Y0+H+19,t.toFixed(2),10,{'text-anchor':'middle'});});
  yt.forEach(t=>{mk('line',{x1:X0-5,y1:y(t),x2:X0,y2:y(t),stroke:'#222'},g);txt(g,0,0,(Math.round(t*100)%10?t.toFixed(2):t.toFixed(1)),10,{'text-anchor':'middle',transform:`translate(${X0-12},${y(t)}) rotate(-90)`});});
  txt(g,X0+W/2,Y0+H+37,xlab,11,{'text-anchor':'middle'});
  txt(g,0,0,ylab,11,{'text-anchor':'middle',transform:`translate(${X0-33},${Y0+H/2}) rotate(-90)`});
  nm(mk('polyline',{points:pred.map((p,i)=>x(p)+','+y(obs[i])).join(' '),fill:'none',stroke:'#1010e8','stroke-width':1.8},g),'calibration-line');
  pred.forEach((p,i)=>{mk('path',{d:`M${x(p)-3},${y(lo[i])} h6 M${x(p)},${y(lo[i])} V${y(hi[i])} M${x(p)-3},${y(hi[i])} h6`,stroke:'#111','stroke-width':1.3,fill:'none'},g);
    mk('circle',{cx:x(p),cy:y(obs[i]),r:2.8,fill:'#1010e8'},g);});
}
label(svg,1156,1672,'K');
calib('panel-k-1year',[1232,1667,218,181],[1258,0.75,1300],[1681,0.95,490],[0.75,0.80,0.85],[0.65,0.75,0.85,0.95],k1Pred,k1Obs,k1Lo,k1Hi,'Predicted Probability of 1\u2212Year OS','Actual 1\u2212Year OS(proportion)','url(#clipK1)');
calib('panel-k-2year',[1524,1667,218,180],[1532,0.55,836],[1676,0.9,365],[0.55,0.60,0.65,0.70,0.75,0.80],[0.5,0.6,0.7,0.8,0.9],k2Pred,k2Obs,k2Lo,k2Hi,'Predicted Probability of 2\u2212Year OS','Actual 2\u2212Year OS(proportion)','url(#clipK2)');
calib('panel-k-3year',[1232,1908,217,184],[1260,0.50,736],[1912,0.9,307],[0.50,0.55,0.60,0.65,0.70,0.75],[0.4,0.5,0.6,0.7,0.8,0.9],k3Pred,k3Obs,k3Lo,k3Hi,'Predicted Probability of 3\u2212Year OS','Actual 3\u2212Year OS(proportion)','url(#clipK3)');
calib('panel-k-5year',[1522,1908,218,180],[1555,0.35,648],[1916,0.8,263],[0.35,0.40,0.45,0.50,0.55,0.60],[0.2,0.3,0.4,0.5,0.6,0.7,0.8],k4Pred,k4Obs,k4Lo,k4Hi,'Predicted Probability of 5\u2212Year OS','Actual 5\u2212Year OS(proportion)','url(#clipK4)');
</script>
</body></html>
